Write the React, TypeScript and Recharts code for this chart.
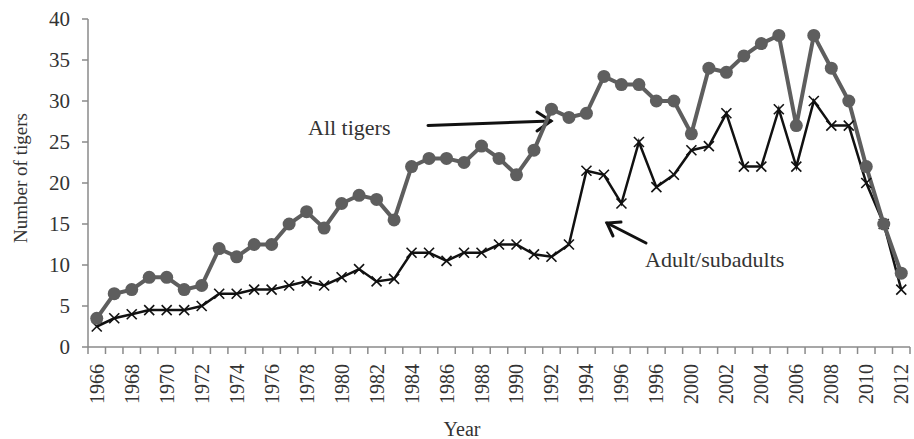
import React from "react";
import { LineChart, Line, XAxis, YAxis, Customized } from "recharts";

const years = [
  "1966", "1967", "1968", "1969", "1970", "1971", "1972", "1973", "1974", "1975",
  "1976", "1977", "1978", "1979", "1980", "1981", "1982", "1983", "1984", "1985",
  "1986", "1987", "1988", "1989", "1990", "1991", "1992", "1993", "1994", "1995",
  "1996", "1997", "1998", "1999", "2000", "2001", "2002", "2003", "2004", "2005",
  "2006", "2007", "2008", "2009", "2010", "2011", "2012",
];

const allTigers = [
  3.5, 6.5, 7, 8.5, 8.5, 7, 7.5, 12, 11, 12.5,
  12.5, 15, 16.5, 14.5, 17.5, 18.5, 18, 15.5, 22, 23,
  23, 22.5, 24.5, 23, 21, 24, 29, 28, 28.5, 33,
  32, 32, 30, 30, 26, 34, 33.5, 35.5, 37, 38,
  27, 38, 34, 30, 22, 15, 9,
];

const adultSubadults = [
  2.5, 3.5, 4, 4.5, 4.5, 4.5, 5, 6.5, 6.5, 7,
  7, 7.5, 8, 7.5, 8.5, 9.5, 8, 8.3, 11.5, 11.5,
  10.5, 11.5, 11.5, 12.5, 12.5, 11.3, 11, 12.5, 21.5, 21,
  17.5, 25, 19.5, 21, 24, 24.5, 28.5, 22, 22, 29,
  22, 30, 27, 27, 20, 15, 7,
];

// labels shown under every other year (as printed in the original, incl. the repeated "1996")
const xTickLabels = [
  "1966", "1968", "1970", "1972", "1974", "1976", "1978", "1980", "1982", "1984",
  "1986", "1988", "1990", "1992", "1994", "1996", "1996", "2000", "2002", "2004",
  "2006", "2008", "2010", "2012",
];

const yTicks = [0, 5, 10, 15, 20, 25, 30, 35, 40];

const data = years.map((y, i) => ({
  year: y,
  all: allTigers[i],
  adult: adultSubadults[i],
}));

const W = 914;
const H = 439;
const M = { top: 19, right: 4, left: 0, bottom: 22 };
const Y_W = 88;
const PLOT_W = W - M.left - M.right - Y_W;
const HALF = PLOT_W / years.length / 2;

const FONT = "'Liberation Serif', 'Times New Roman', serif";
const TEXT = "#333333";
const AXIS = "#8a8a8a";
const GRAY = "#5e5e5e";

const XTick = (props: any) => {
  const { x, y, index } = props;
  const last = index === years.length - 1;
  const label = index % 2 === 0 ? xTickLabels[index / 2] : null;
  return (
    <g>
      <line x1={x - HALF} y1={y} x2={x - HALF} y2={y + 7} stroke={AXIS} strokeWidth={1.5} />
      {last && <line x1={x + HALF} y1={y} x2={x + HALF} y2={y + 7} stroke={AXIS} strokeWidth={1.5} />}
      {label && (
        <text
          x={x}
          y={y + 17}
          transform={`rotate(-90, ${x}, ${y + 17})`}
          textAnchor="end"
          dominantBaseline="central"
          fontFamily={FONT}
          fontSize={20}
          fill={TEXT}
        >
          {label}
        </text>
      )}
    </g>
  );
};

const CircleDot = (props: any) => {
  const { cx, cy } = props;
  if (cx == null || cy == null) return null;
  return <circle cx={cx} cy={cy} r={6.5} fill={GRAY} stroke="none" />;
};

const CrossDot = (props: any) => {
  const { cx, cy } = props;
  if (cx == null || cy == null) return null;
  const s = 5;
  return (
    <g stroke="#111" strokeWidth={1.6}>
      <line x1={cx - s} y1={cy - s} x2={cx + s} y2={cy + s} />
      <line x1={cx - s} y1={cy + s} x2={cx + s} y2={cy - s} />
    </g>
  );
};

const Annotations = () => (
  <g fontFamily={FONT} fill={TEXT}>
    <text x={20} y={178} transform="rotate(-90, 20, 178)" textAnchor="middle" dominantBaseline="central" fontSize={19}>
      Number of tigers
    </text>
    <text x={462} y={436} textAnchor="middle" fontSize={20}>
      Year
    </text>
    <text x={308} y={135} fontSize={22}>
      All tigers
    </text>
    <g stroke="#111" strokeWidth={3} fill="none" strokeLinecap="round">
      <line x1={428} y1={125.5} x2={551} y2={121} />
      <polyline points="537,112 551,121 537,131" />
    </g>
    <text x={645} y={267} fontSize={22}>
      Adult/subadults
    </text>
    <g stroke="#111" strokeWidth={3} fill="none" strokeLinecap="round">
      <line x1={646} y1={243} x2={607} y2={223} />
      <polyline points="613,236 607,223 621,222" />
    </g>
  </g>
);

export default function App() {
  return (
    <div style={{ position: "absolute", left: 0, top: 0, background: "#fff" }}>
      <LineChart width={W} height={H} data={data} margin={M}>
        <XAxis
          dataKey="year"
          interval={0}
          padding={{ left: HALF, right: HALF }}
          tickLine={false}
          tickSize={0}
          tickMargin={0}
          tick={<XTick />}
          height={70}
          stroke={AXIS}
          strokeWidth={1.5}
        />
        <YAxis
          domain={[0, 40]}
          ticks={yTicks}
          width={Y_W}
          tickSize={6}
          tickMargin={12}
          stroke={AXIS}
          strokeWidth={1.5}
          tick={{ fontFamily: FONT, fontSize: 21, fill: TEXT }}
        />
        <Line
          dataKey="adult"
          stroke="#111"
          strokeWidth={2.5}
          dot={<CrossDot />}
          activeDot={false}
          isAnimationActive={false}
        />
        <Line
          dataKey="all"
          stroke={GRAY}
          strokeWidth={4}
          dot={<CircleDot />}
          activeDot={false}
          isAnimationActive={false}
        />
        <Customized component={Annotations} />
      </LineChart>
    </div>
  );
}
